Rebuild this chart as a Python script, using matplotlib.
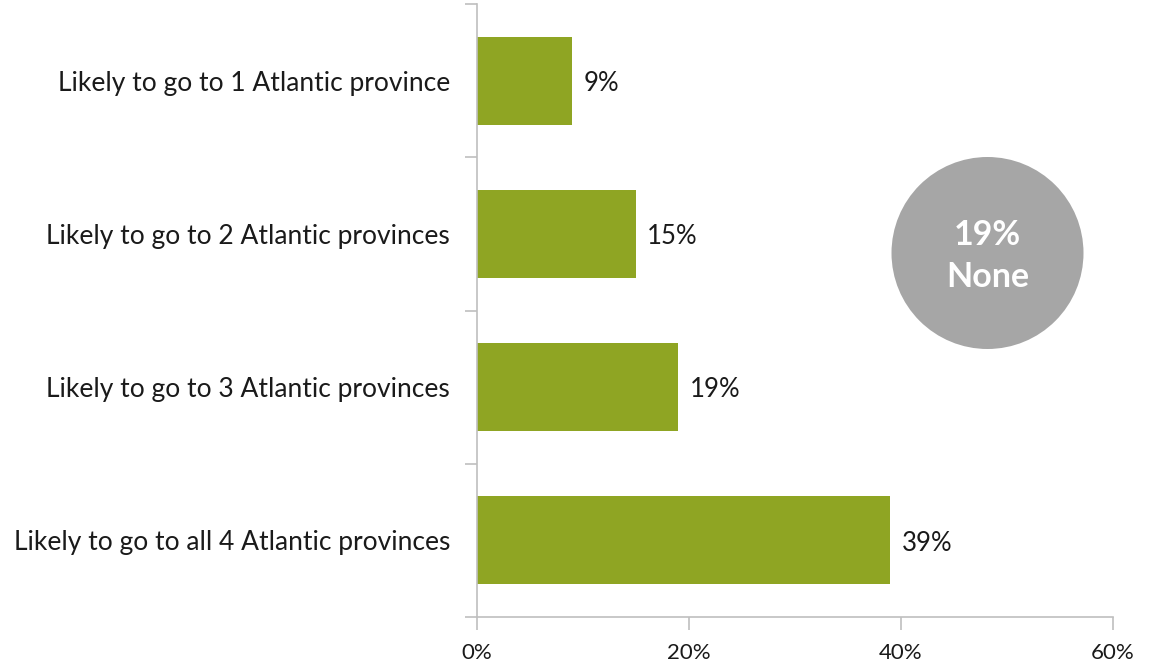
import matplotlib
matplotlib.use("Agg")
import matplotlib.pyplot as plt
from matplotlib.patches import Ellipse

categories = ["Likely to go to 1 Atlantic province",
              "Likely to go to 2 Atlantic provinces",
              "Likely to go to 3 Atlantic provinces",
              "Likely to go to all 4 Atlantic provinces"]
values = [9, 15, 19, 39]
xticks = [0, 20, 40, 60]
xtick_labels = ["0%", "20%", "40%", "60%"]
none_share = "19%"

plt.rcParams['font.family'] = ['Lato', 'DejaVu Sans']

W, H = 1153, 664
fig = plt.figure(figsize=(W / 100, H / 100), dpi=100)
ax = fig.add_axes([477 / W, (H - 617) / H, (1113 - 477) / W, (617 - 4) / H])

bar_color = "#8FA523"
text_color = "#1a1a1a"
spine_color = "#BFBFBF"

ypos = list(range(len(categories)))
ax.barh(ypos, values, height=0.575, color=bar_color)
ax.set_ylim(3.5, -0.5)
ax.set_xlim(0, 60)

for y, v in zip(ypos, values):
    ax.annotate(f"{v}%", (v, y), xytext=(8, -2), textcoords="offset points",
                va="center", ha="left", fontsize=18.5, color=text_color)

ax.set_yticks(ypos)
ax.set_yticklabels(categories, fontsize=19, color=text_color)
ax.set_yticks([-0.5, 0.5, 1.5, 2.5, 3.5], minor=True)
ax.tick_params(axis="y", which="major", length=0, pad=19.5)
ax.tick_params(axis="y", which="minor", length=9, color=spine_color, width=1.2)

ax.set_xticks(xticks)
ax.set_xticklabels(xtick_labels, fontsize=16, color=text_color)
ax.tick_params(axis="x", length=9, color=spine_color, width=1.2, pad=10)

for s in ["top", "right"]:
    ax.spines[s].set_visible(False)
for s in ["left", "bottom"]:
    ax.spines[s].set_color(spine_color)
    ax.spines[s].set_linewidth(1.2)

cx, cy, r = 987.5, 253, 96
fig.add_artist(Ellipse((cx / W, 1 - cy / H), 2 * r / W, 2 * r / H,
                       transform=fig.transFigure, color="#A6A6A6", lw=0))
fig.text(cx / W, 1 - 256 / H, f"{none_share}\nNone", ha="center", va="center",
         fontsize=24.5, fontweight="bold", color="white", linespacing=1.35)

fig.savefig("out.png", dpi=100)
